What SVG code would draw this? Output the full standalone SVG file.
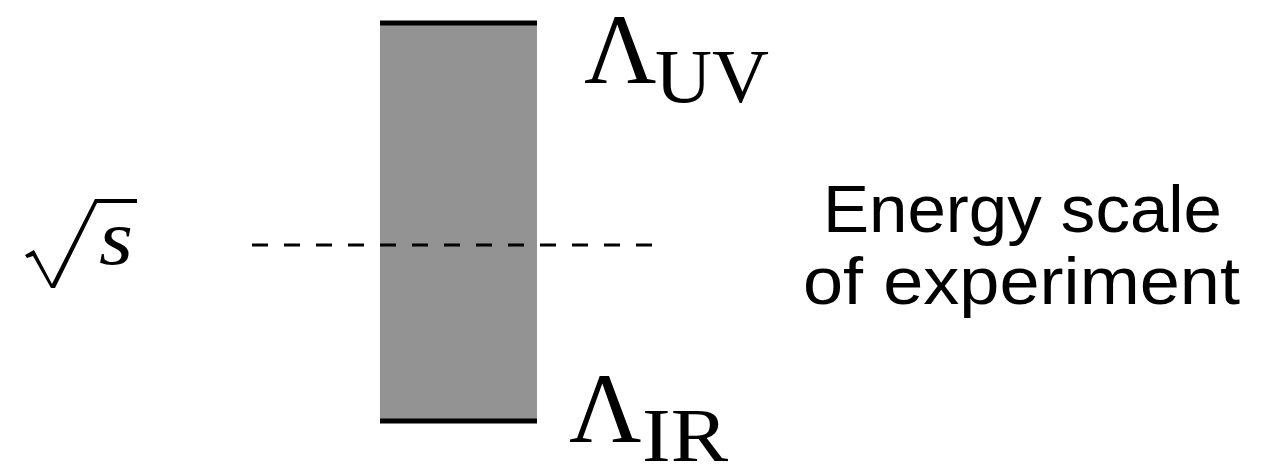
<svg xmlns="http://www.w3.org/2000/svg" width="1276" height="468" viewBox="0 0 1276 468">
<style>
.math{font-family:"Liberation Serif","DejaVu Serif",serif;fill:#000}
.lbl{font-family:"Liberation Sans",Arial,sans-serif;fill:#000;font-size:67px}
.bar{stroke:#000;stroke-width:5}
</style>
<rect width="1276" height="468" fill="#fff"/>
<g id="band">
<rect x="380" y="23" width="157" height="398" fill="#939393"/>
<line class="bar" x1="380" y1="23" x2="537" y2="23"/>
<line class="bar" x1="380" y1="421" x2="537" y2="421"/>
</g>
<g id="connectors">
<line x1="252" y1="245" x2="655" y2="245" stroke="#000" stroke-width="3" stroke-dasharray="16 16"/>
</g>
<g id="uv">
<text class="math" x="584" y="83" font-size="100">Λ</text>
<text class="math" x="655" y="102" font-size="76" textLength="114" lengthAdjust="spacingAndGlyphs">UV</text>
</g>
<g id="ir">
<text class="math" x="569" y="442" font-size="100">Λ</text>
<text class="math" x="642" y="461" font-size="76" textLength="86" lengthAdjust="spacingAndGlyphs">IR</text>
</g>
<g id="sqrts">
<path d="M25,255 L34,250 L52,284 L95,199 L137,199 L137,203 L97,203 L55,288 L51,288 L33,256 L27,258 Z" fill="#000"/>
<text class="math" x="99" y="264" font-size="78" font-style="italic" textLength="34" lengthAdjust="spacingAndGlyphs">s</text>
</g>
<g id="energy">
<text class="lbl" x="823" y="232" textLength="399" lengthAdjust="spacingAndGlyphs">Energy scale</text>
<text class="lbl" x="803" y="304" textLength="437" lengthAdjust="spacingAndGlyphs">of experiment</text>
</g>
</svg>
